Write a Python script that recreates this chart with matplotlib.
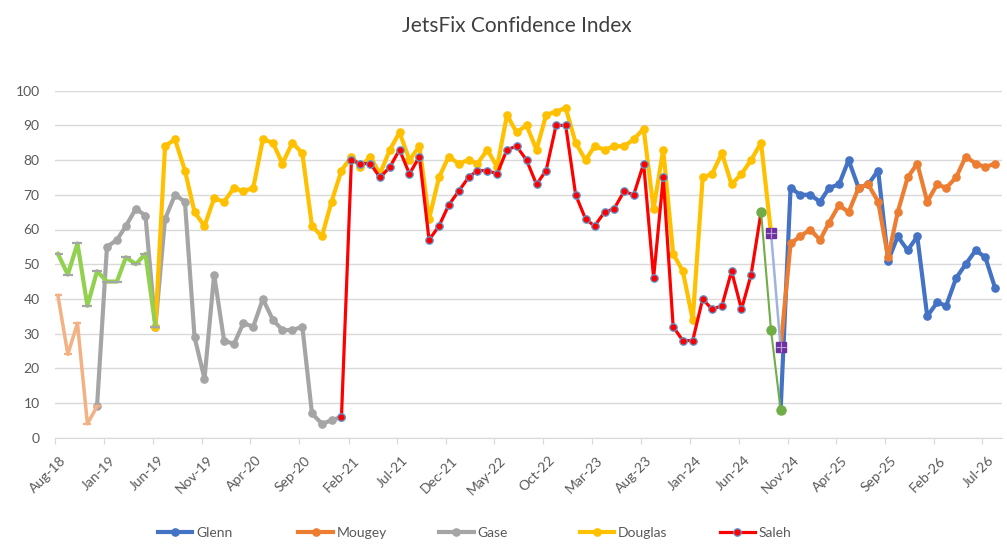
import pandas as pd
import matplotlib
matplotlib.use("Agg")
import matplotlib.pyplot as plt
import matplotlib.dates as mdates
import matplotlib.transforms as mtransforms

plt.rcParams['font.family'] = ['Lato', 'DejaVu Sans']

# monthly readings, each series starts at its own month
glenn_start = "2024-10"
glenn = [8, 72, 70, 70, 68, 72, 73, 80, 72, 73, 77, 51, 58, 54, 58, 35, 39, 38, 46, 50, 54, 52, 43]

mougey_start = "2024-10"
mougey = [26, 56, 58, 60, 57, 62, 67, 65, 72, 73, 68, 52, 65, 75, 79, 68, 73, 72, 75, 81, 79, 78, 79]

gase_start = "2018-12"
gase = [9, 55, 57, 61, 66, 64, 32, 63, 70, 68, 29, 17, 47, 28, 27, 33, 32, 40, 34, 31,
        31, 32, 7, 4, 5, 6]

douglas_start = "2019-06"
douglas = [32, 84, 86, 77, 65, 61, 69, 68, 72, 71, 72, 86, 85, 79, 85, 82, 61, 58, 68, 77,
           81, 78, 81, 76, 83, 88, 80, 84, 63, 75, 81, 79, 80, 79, 83, 78, 93, 88, 90, 83,
           93, 94, 95, 85, 80, 84, 83, 84, 84, 86, 89, 66, 83, 53, 48, 34, 75, 76, 82, 73,
           76, 80, 85, 59]

saleh_start = "2021-01"
saleh = [6, 80, 79, 79, 75, 78, 83, 76, 81, 57, 61, 67, 71, 75, 77, 77, 76, 83, 84, 80,
         73, 77, 90, 90, 70, 63, 61, 65, 66, 71, 70, 79, 46, 75, 32, 28, 28, 40, 37, 38,
         48, 37, 47, 65]

early_a_start = "2018-08"
early_a = [41, 24, 33, 4, 9]

early_b_start = "2018-08"
early_b = [53, 47, 56, 38, 48, 45, 45, 52, 50, 53, 32]

interim_a_start = "2024-08"
interim_a = [65, 31, 8]

interim_b_start = "2024-09"
interim_b = [59, 26]

tick_start = "2018-08"
tick_count = 20


def month_dates(start, n):
    return pd.date_range(start + "-01", periods=n, freq="MS") + pd.Timedelta(days=9)


fig = plt.figure(figsize=(10.07, 5.51), dpi=100)
ax = fig.add_axes([55 / 1007, (551 - 437.7) / 551, (1002.3 - 55) / 1007, (437.7 - 90.7) / 551])

main = dict(lw=3, marker="o", markersize=5.2)
l1, = ax.plot(month_dates(glenn_start, len(glenn)), glenn, color="#4472C4", label="Glenn", **main)
l2, = ax.plot(month_dates(mougey_start, len(mougey)), mougey, color="#ED7D31", label="Mougey", **main)
l3, = ax.plot(month_dates(gase_start, len(gase)), gase, color="#A5A5A5", label="Gase", **main)
l4, = ax.plot(month_dates(douglas_start, len(douglas)), douglas, color="#FFC000", label="Douglas", **main)
l5, = ax.plot(month_dates(saleh_start, len(saleh)), saleh, color="#FF0000", lw=2.3, marker="o",
              markersize=5.4, markerfacecolor="#FF0000", markeredgecolor="#5B9BD5",
              markeredgewidth=0.9, label="Saleh")

ax.plot(month_dates(early_a_start, len(early_a)), early_a, color="#F4B183", lw=2.5,
        marker="_", markersize=6, markeredgewidth=1.6)
ax.plot(month_dates(early_b_start, len(early_b)), early_b, color="#92D050", lw=3,
        marker="_", markersize=7.5, markeredgewidth=1.6, markeredgecolor="#A5A5A5")
ax.plot(month_dates(interim_a_start, len(interim_a)), interim_a, color="#70AD47", lw=1.5,
        marker="o", markersize=6.5)
ax.plot(month_dates(interim_b_start, len(interim_b)), interim_b, color="#9DB3E0", lw=1.8,
        marker="s", markersize=7.5, markerfacecolor="#7030A0", markeredgecolor="#7030A0")
ax.plot(month_dates(interim_b_start, len(interim_b)), interim_b, lw=0,
        marker="+", markersize=7.5, markeredgecolor="#B9A2D8", markeredgewidth=0.8)

ax.set_ylim(0, 100)
ax.set_yticks(range(0, 101, 10))
ax.set_xlim(pd.Timestamp("2018-08-01"), pd.Timestamp("2026-09-01"))
ticks = pd.date_range(tick_start + "-01", periods=tick_count, freq="5MS")
ax.set_xticks(ticks)
ax.xaxis.set_major_formatter(mdates.DateFormatter("%b-%y"))

ax.grid(axis="y", color="#D9D9D9", lw=1)
ax.set_axisbelow(True)
for s in ["top", "right", "left"]:
    ax.spines[s].set_visible(False)
ax.spines["bottom"].set_color("#D9D9D9")
ax.tick_params(axis="y", length=0, labelsize=10, labelcolor="#595959", pad=11)
ax.tick_params(axis="x", length=4, color="#D9D9D9", labelsize=10, labelcolor="#595959")
shift = mtransforms.ScaledTranslation(5 / 100, -6 / 100, fig.dpi_scale_trans)
for lab in ax.get_xticklabels():
    lab.set_rotation(45)
    lab.set_ha("right")
    lab.set_rotation_mode("anchor")
    lab.set_transform(lab.get_transform() + shift)

fig.text(517 / 1007, 1 - 26 / 551, "JetsFix Confidence Index", ha="center", va="center",
         fontsize=15, color="#404040")

# Excel spaces the legend entries evenly
for i, line in enumerate([l1, l2, l3, l4, l5]):
    fig.legend(handles=[line], loc="center left",
               bbox_to_anchor=((157.7 + 140.6 * i) / 1007, 1 - 533 / 551),
               frameon=False, fontsize=10, labelcolor="#595959", handlelength=2.5,
               handletextpad=0.25, borderpad=0, borderaxespad=0)

fig.savefig("out.png", dpi=100)
